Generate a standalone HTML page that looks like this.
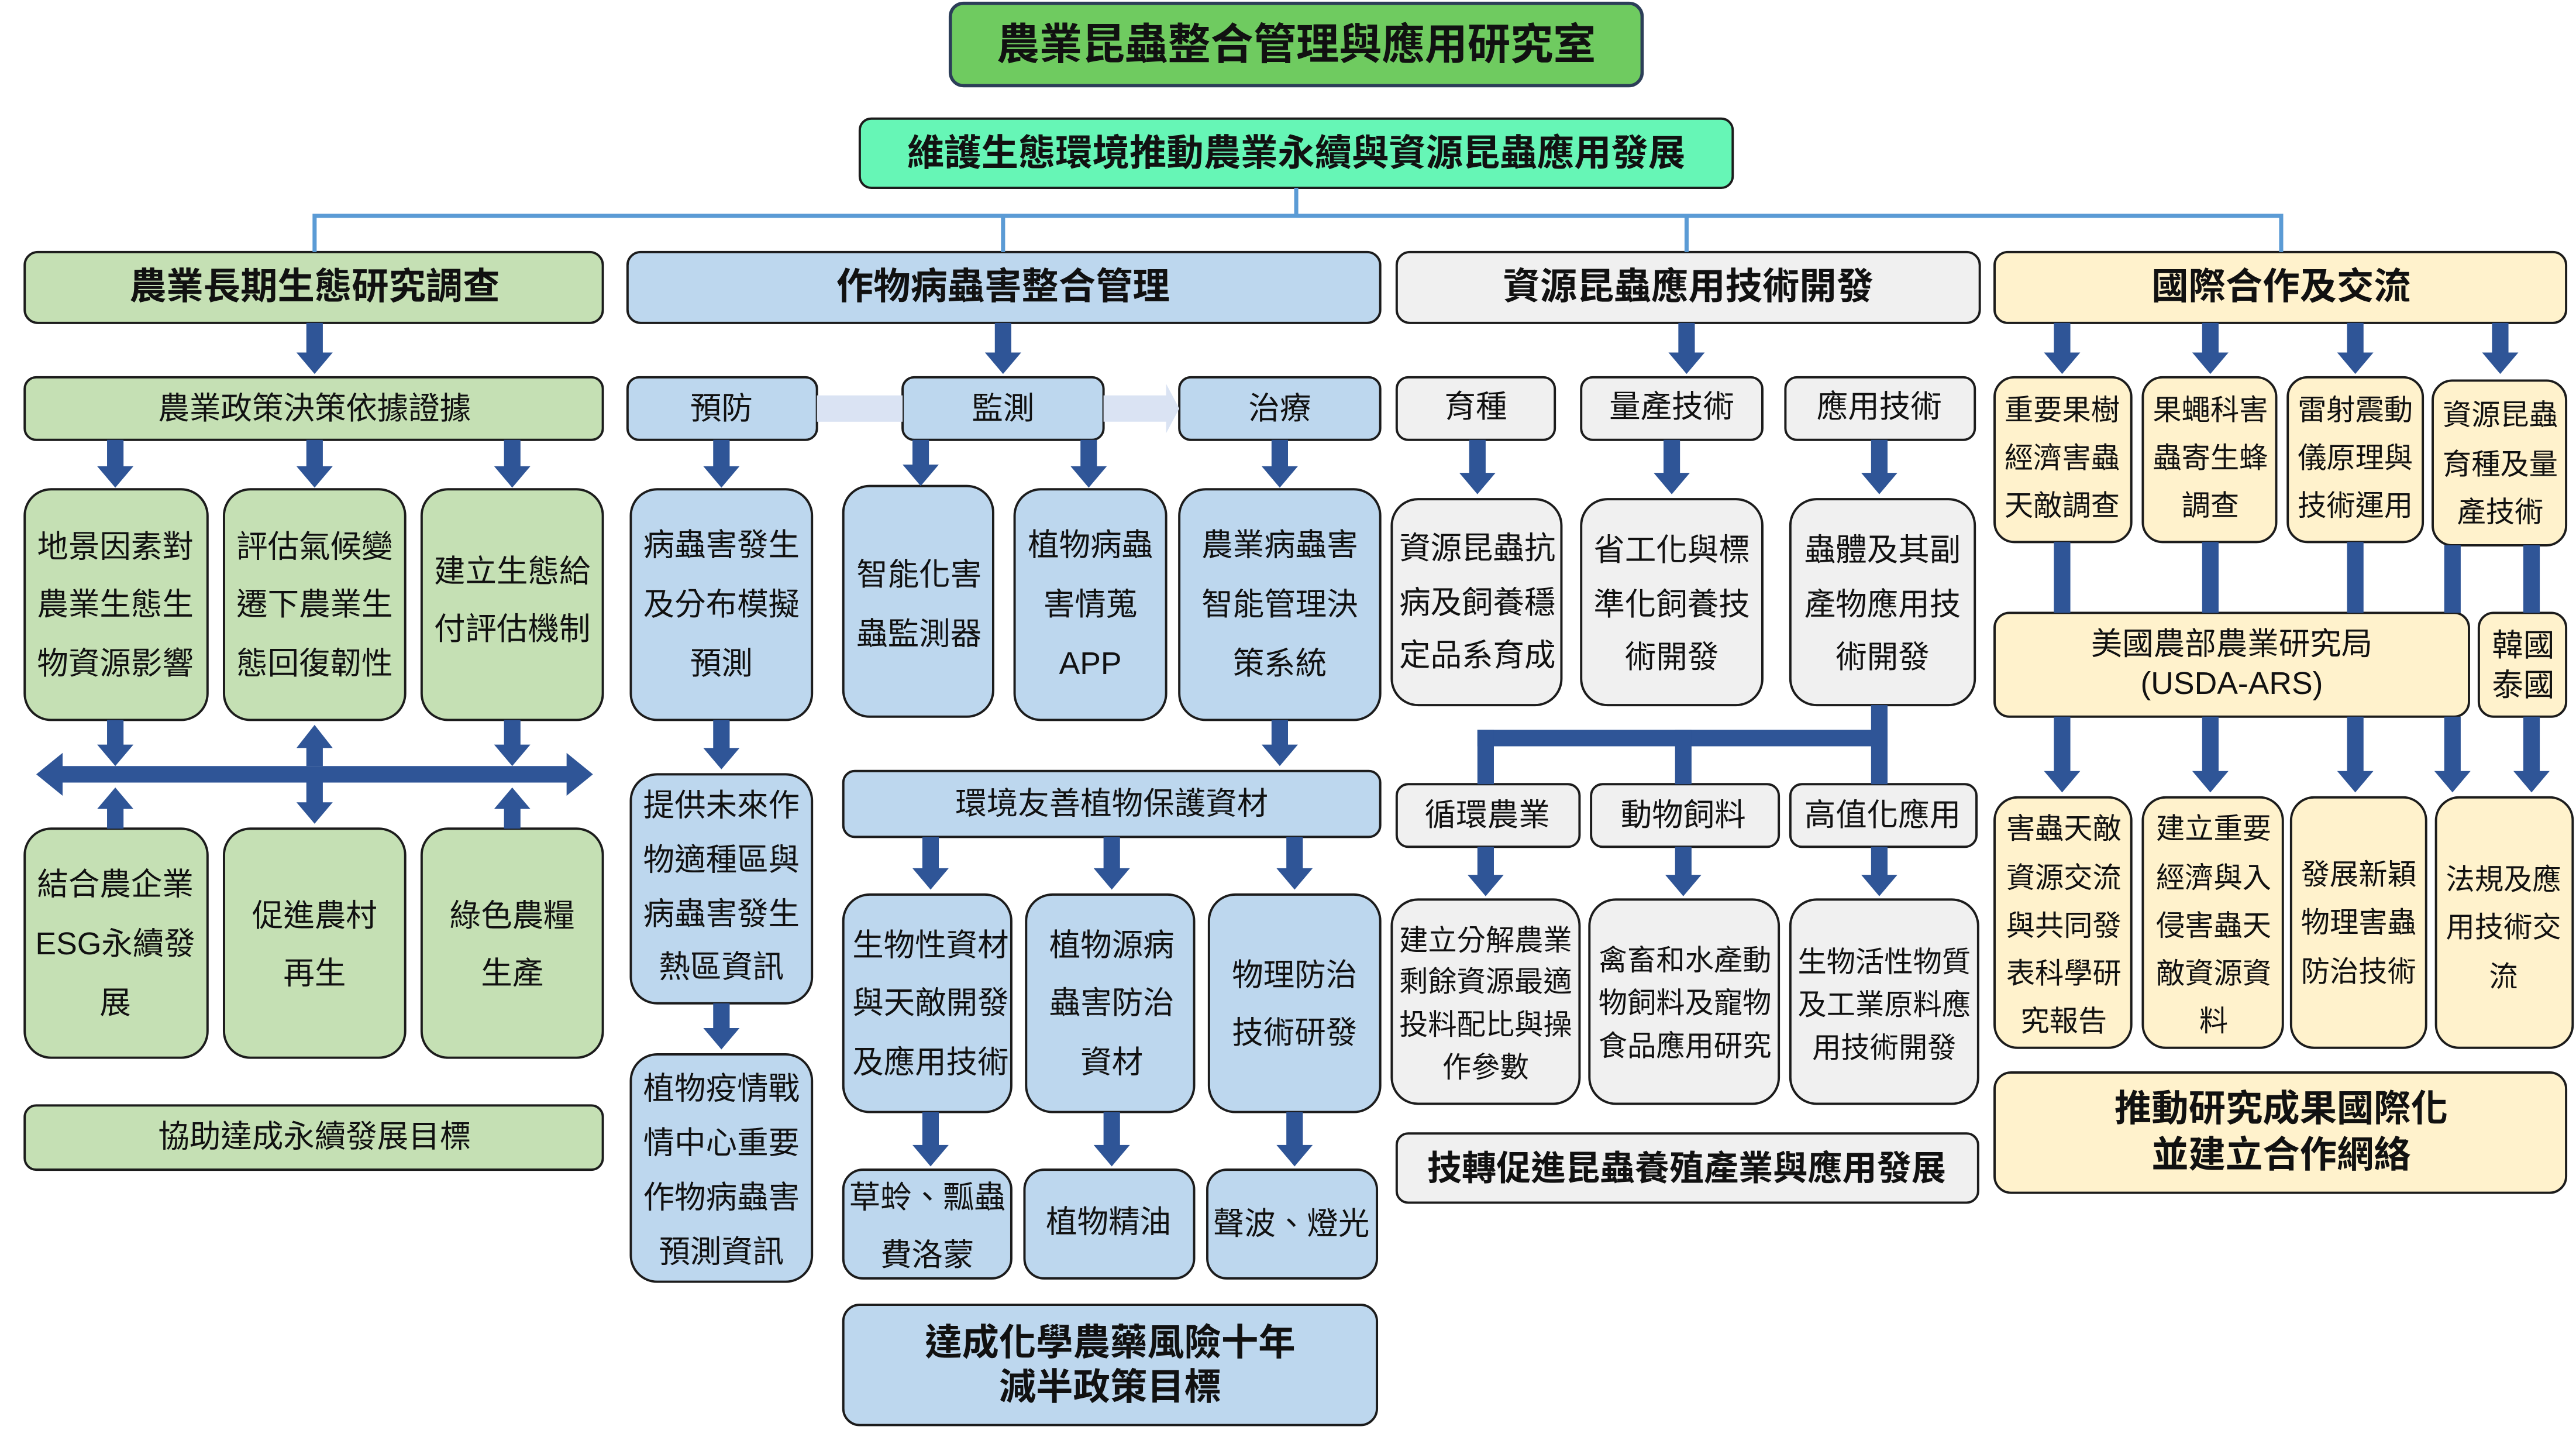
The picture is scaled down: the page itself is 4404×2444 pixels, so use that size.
<!DOCTYPE html>
<html><head><meta charset="utf-8"><style>
html,body{margin:0;padding:0;background:#fff;}
svg{display:block;}
text{font-family:"Liberation Sans","Noto Sans CJK TC",sans-serif;text-anchor:middle;dominant-baseline:central;fill:#111;}
.b{font-weight:bold;}
</style></head><body>
<svg width="4404" height="2444" viewBox="0 0 1564 868" preserveAspectRatio="none" xmlns="http://www.w3.org/2000/svg">
<g stroke="#1c1c1c" stroke-width="1.4">
<rect x="577" y="2" width="420" height="50" rx="8" fill="#6fcb60" stroke="#2c3e58" stroke-width="2"/>
<rect x="522" y="72" width="530" height="42" rx="7" fill="#66f6b6"/>
<rect x="15" y="153" width="351" height="43" rx="8" fill="#c5e0b4"/>
<rect x="381" y="153" width="457" height="43" rx="8" fill="#bdd7ee"/>
<rect x="848" y="153" width="354" height="43" rx="8" fill="#f0f0f0"/>
<rect x="1211" y="153" width="347" height="43" rx="8" fill="#fff2cc"/>
<rect x="15" y="229" width="351" height="38" rx="7" fill="#c5e0b4"/>
<rect x="15" y="297" width="111" height="140" rx="16" fill="#c5e0b4"/>
<rect x="136" y="297" width="110" height="140" rx="16" fill="#c5e0b4"/>
<rect x="256" y="297" width="110" height="140" rx="16" fill="#c5e0b4"/>
<rect x="15" y="503" width="111" height="139" rx="16" fill="#c5e0b4"/>
<rect x="136" y="503" width="110" height="139" rx="16" fill="#c5e0b4"/>
<rect x="256" y="503" width="110" height="139" rx="16" fill="#c5e0b4"/>
<rect x="15" y="671" width="351" height="39" rx="7" fill="#c5e0b4"/>
<rect x="381" y="229" width="115" height="38" rx="7" fill="#bdd7ee"/>
<rect x="548" y="229" width="122" height="38" rx="7" fill="#bdd7ee"/>
<rect x="716" y="229" width="122" height="38" rx="7" fill="#bdd7ee"/>
<rect x="383" y="297" width="110" height="140" rx="16" fill="#bdd7ee"/>
<rect x="512" y="295" width="91" height="140" rx="16" fill="#bdd7ee"/>
<rect x="616" y="297" width="92" height="140" rx="16" fill="#bdd7ee"/>
<rect x="716" y="297" width="122" height="140" rx="16" fill="#bdd7ee"/>
<rect x="383" y="470" width="110" height="139" rx="16" fill="#bdd7ee"/>
<rect x="383" y="640" width="110" height="138" rx="16" fill="#bdd7ee"/>
<rect x="512" y="468" width="326" height="40" rx="7" fill="#bdd7ee"/>
<rect x="512" y="543" width="102" height="132" rx="16" fill="#bdd7ee"/>
<rect x="623" y="543" width="102" height="132" rx="16" fill="#bdd7ee"/>
<rect x="734" y="543" width="104" height="132" rx="16" fill="#bdd7ee"/>
<rect x="512" y="710" width="102" height="66" rx="12" fill="#bdd7ee"/>
<rect x="622" y="710" width="103" height="66" rx="12" fill="#bdd7ee"/>
<rect x="733" y="710" width="103" height="66" rx="12" fill="#bdd7ee"/>
<rect x="512" y="792" width="324" height="73" rx="10" fill="#bdd7ee"/>
<rect x="848" y="229" width="96" height="38" rx="7" fill="#f0f0f0"/>
<rect x="960" y="229" width="110" height="38" rx="7" fill="#f0f0f0"/>
<rect x="1084" y="229" width="115" height="38" rx="7" fill="#f0f0f0"/>
<rect x="845" y="303" width="103" height="125" rx="16" fill="#f0f0f0"/>
<rect x="960" y="303" width="110" height="125" rx="16" fill="#f0f0f0"/>
<rect x="1087" y="303" width="112" height="125" rx="16" fill="#f0f0f0"/>
<rect x="848" y="476" width="111" height="38" rx="7" fill="#f0f0f0"/>
<rect x="966" y="476" width="114" height="38" rx="7" fill="#f0f0f0"/>
<rect x="1087" y="476" width="113" height="38" rx="7" fill="#f0f0f0"/>
<rect x="845" y="546" width="114" height="124" rx="16" fill="#f0f0f0"/>
<rect x="965" y="546" width="115" height="124" rx="16" fill="#f0f0f0"/>
<rect x="1087" y="546" width="114" height="124" rx="16" fill="#f0f0f0"/>
<rect x="848" y="688" width="353" height="42" rx="7" fill="#f0f0f0"/>
<rect x="1211" y="229" width="83" height="100" rx="12" fill="#fff2cc"/>
<rect x="1301" y="229" width="81" height="100" rx="12" fill="#fff2cc"/>
<rect x="1389" y="229" width="82" height="100" rx="12" fill="#fff2cc"/>
<rect x="1477" y="231" width="81" height="100" rx="12" fill="#fff2cc"/>
<rect x="1211" y="372" width="288" height="63" rx="9" fill="#fff2cc"/>
<rect x="1505" y="372" width="53" height="63" rx="9" fill="#fff2cc"/>
<rect x="1211" y="484" width="83" height="152" rx="14" fill="#fff2cc"/>
<rect x="1301" y="484" width="85" height="152" rx="14" fill="#fff2cc"/>
<rect x="1391" y="484" width="82" height="152" rx="14" fill="#fff2cc"/>
<rect x="1479" y="484" width="83" height="152" rx="14" fill="#fff2cc"/>
<rect x="1211" y="651" width="347" height="73" rx="10" fill="#fff2cc"/>
</g>
<g stroke="#5b9bd5" stroke-width="2.5" fill="none">
<path d="M787 114V131M191 153V131H1385V153M609 131V153M1024 131V153"/>
</g>
<rect x="496" y="240" width="52" height="16" fill="#dae3f3"/>
<polygon points="670,240 708,240 708,233 716,248 708,263 708,256 670,256" fill="#dae3f3"/>
<g fill="#2f5597">
<polygon points="186,196 196,196 196,214 202,214 191,227 180,214 186,214"/>
<polygon points="604,196 614,196 614,214 620,214 609,227 598,214 604,214"/>
<polygon points="1019,196 1029,196 1029,214 1035,214 1024,227 1013,214 1019,214"/>
<polygon points="1247,196 1257,196 1257,214 1263,214 1252,227 1241,214 1247,214"/>
<polygon points="1337,196 1347,196 1347,214 1353,214 1342,227 1331,214 1337,214"/>
<polygon points="1425,196 1435,196 1435,214 1441,214 1430,227 1419,214 1425,214"/>
<polygon points="1513,196 1523,196 1523,214 1529,214 1518,227 1507,214 1513,214"/>
<polygon points="65,267 75,267 75,283 81,283 70,296 59,283 65,283"/>
<polygon points="186,267 196,267 196,283 202,283 191,296 180,283 186,283"/>
<polygon points="306,267 316,267 316,283 322,283 311,296 300,283 306,283"/>
<polygon points="433,267 443,267 443,283 449,283 438,296 427,283 433,283"/>
<polygon points="554,267 564,267 564,282 570,282 559,295 548,282 554,282"/>
<polygon points="656,267 666,267 666,283 672,283 661,296 650,283 656,283"/>
<polygon points="772,267 782,267 782,283 788,283 777,296 766,283 772,283"/>
<polygon points="65,437 75,437 75,452 81,452 70,465 59,452 65,452"/>
<polygon points="306,437 316,437 316,452 322,452 311,465 300,452 306,452"/>
<polygon points="186,465 196,465 196,454 202,454 191,440 180,454 186,454"/>
<polygon points="186,475 196,475 196,487 202,487 191,500 180,487 186,487"/>
<polygon points="65,503 75,503 75,491 81,491 70,478 59,491 65,491"/>
<polygon points="306,503 316,503 316,491 322,491 311,478 300,491 306,491"/>
<polygon points="22,470 38,457 38,465 344,465 344,457 360,470 344,483 344,475 38,475 38,483"/>
<polygon points="433,437 443,437 443,454 449,454 438,467 427,454 433,454"/>
<polygon points="433,609 443,609 443,624 449,624 438,637 427,624 433,624"/>
<polygon points="772,437 782,437 782,452 788,452 777,465 766,452 772,452"/>
<polygon points="560,508 570,508 570,527 576,527 565,540 554,527 560,527"/>
<polygon points="670,508 680,508 680,527 686,527 675,540 664,527 670,527"/>
<polygon points="781,508 791,508 791,527 797,527 786,540 775,527 781,527"/>
<polygon points="560,675 570,675 570,695 576,695 565,708 554,695 560,695"/>
<polygon points="670,675 680,675 680,695 686,695 675,708 664,695 670,695"/>
<polygon points="781,675 791,675 791,695 797,695 786,708 775,695 781,695"/>
<polygon points="892,267 902,267 902,287 908,287 897,300 886,287 892,287"/>
<polygon points="1010,267 1020,267 1020,287 1026,287 1015,300 1004,287 1010,287"/>
<polygon points="1136,267 1146,267 1146,287 1152,287 1141,300 1130,287 1136,287"/>
<rect x="1136" y="428" width="10" height="48"/>
<rect x="897" y="443" width="249" height="10"/>
<rect x="897" y="443" width="10" height="33"/>
<rect x="1017" y="443" width="10" height="33"/>
<polygon points="897,514 907,514 907,531 913,531 902,544 891,531 897,531"/>
<polygon points="1017,514 1027,514 1027,531 1033,531 1022,544 1011,531 1017,531"/>
<polygon points="1136,514 1146,514 1146,531 1152,531 1141,544 1130,531 1136,531"/>
<rect x="1247" y="329" width="10" height="43"/>
<rect x="1337" y="329" width="10" height="43"/>
<rect x="1425" y="329" width="10" height="43"/>
<rect x="1484" y="331" width="10" height="41"/>
<rect x="1532" y="331" width="10" height="41"/>
<polygon points="1247,435 1257,435 1257,468 1263,468 1252,481 1241,468 1247,468"/>
<polygon points="1337,435 1347,435 1347,468 1353,468 1342,481 1331,468 1337,468"/>
<polygon points="1425,435 1435,435 1435,468 1441,468 1430,481 1419,468 1425,468"/>
<polygon points="1484,435 1494,435 1494,468 1500,468 1489,481 1478,468 1484,468"/>
<polygon points="1532,435 1542,435 1542,468 1548,468 1537,481 1526,468 1532,468"/>
</g>
<text x="787" y="27" class="b" font-size="26">農業昆蟲整合管理與應用研究室</text>
<text x="787" y="93" class="b" font-size="22.5">維護生態環境推動農業永續與資源昆蟲應用發展</text>
<g font-size="22.5">
<text x="191" y="174" class="b">農業長期生態研究調查</text>
<text x="609" y="174" class="b">作物病蟲害整合管理</text>
<text x="1025" y="174" class="b">資源昆蟲應用技術開發</text>
<text x="1385" y="174" class="b">國際合作及交流</text>
</g>
<g font-size="19">
<text x="191" y="248">農業政策決策依據證據</text>
<text x="70" y="332">地景因素對</text><text x="70" y="367">農業生態生</text><text x="70" y="403">物資源影響</text>
<text x="191" y="332">評估氣候變</text><text x="191" y="367">遷下農業生</text><text x="191" y="403">態回復韌性</text>
<text x="311" y="347">建立生態給</text><text x="311" y="382">付評估機制</text>
<text x="70" y="537">結合農企業</text><text x="70" y="573">ESG永續發</text><text x="70" y="609">展</text>
<text x="191" y="556">促進農村</text><text x="191" y="591">再生</text>
<text x="311" y="556">綠色農糧</text><text x="311" y="591">生產</text>
<text x="191" y="690">協助達成永續發展目標</text>
<text x="438" y="248">預防</text><text x="609" y="248">監測</text><text x="777" y="248">治療</text>
<text x="438" y="331">病蟲害發生</text><text x="438" y="367">及分布模擬</text><text x="438" y="403">預測</text>
<text x="558" y="349">智能化害</text><text x="558" y="385">蟲監測器</text>
<text x="662" y="331">植物病蟲</text><text x="662" y="367">害情蒐</text><text x="662" y="403">APP</text>
<text x="777" y="331">農業病蟲害</text><text x="777" y="367">智能管理決</text><text x="777" y="403">策系統</text>
<text x="438" y="489">提供未來作</text><text x="438" y="522">物適種區與</text><text x="438" y="555">病蟲害發生</text><text x="438" y="587">熱區資訊</text>
<text x="438" y="661">植物疫情戰</text><text x="438" y="694">情中心重要</text><text x="438" y="727">作物病蟲害</text><text x="438" y="760">預測資訊</text>
<text x="675" y="488">環境友善植物保護資材</text>
<text x="565" y="574">生物性資材</text><text x="565" y="609">與天敵開發</text><text x="565" y="645">及應用技術</text>
<text x="675" y="574">植物源病</text><text x="675" y="609">蟲害防治</text><text x="675" y="645">資材</text>
<text x="786" y="592">物理防治</text><text x="786" y="627">技術研發</text>
<text x="563" y="727">草蛉、瓢蟲</text><text x="563" y="762">費洛蒙</text>
<text x="673" y="742">植物精油</text>
<text x="784" y="743">聲波、燈光</text>
<text x="896" y="247">育種</text><text x="1015" y="247">量產技術</text><text x="1141" y="247">應用技術</text>
<text x="897" y="333">資源昆蟲抗</text><text x="897" y="366">病及飼養穩</text><text x="897" y="398">定品系育成</text>
<text x="1015" y="334">省工化與標</text><text x="1015" y="367">準化飼養技</text><text x="1015" y="399">術開發</text>
<text x="1143" y="334">蟲體及其副</text><text x="1143" y="367">產物應用技</text><text x="1143" y="399">術開發</text>
<text x="903" y="495">循環農業</text><text x="1022" y="495">動物飼料</text><text x="1143" y="495">高值化應用</text>
<text x="1355" y="391">美國農部農業研究局</text><text x="1355" y="415">(USDA-ARS)</text>
<text x="1532" y="392">韓國</text><text x="1532" y="416">泰國</text>
</g>
<g font-size="17.5">
<text x="902" y="571">建立分解農業</text><text x="902" y="596">剩餘資源最適</text><text x="902" y="622">投料配比與操</text><text x="902" y="648">作參數</text>
<text x="1023" y="583">禽畜和水產動</text><text x="1023" y="609">物飼料及寵物</text><text x="1023" y="635">食品應用研究</text>
<text x="1144" y="584">生物活性物質</text><text x="1144" y="610">及工業原料應</text><text x="1144" y="636">用技術開發</text>
<text x="1252" y="249">重要果樹</text><text x="1252" y="278">經濟害蟲</text><text x="1252" y="307">天敵調查</text>
<text x="1342" y="249">果蠅科害</text><text x="1342" y="278">蟲寄生蜂</text><text x="1342" y="307">調查</text>
<text x="1430" y="249">雷射震動</text><text x="1430" y="278">儀原理與</text><text x="1430" y="307">技術運用</text>
<text x="1518" y="252">資源昆蟲</text><text x="1518" y="282">育種及量</text><text x="1518" y="311">產技術</text>
<text x="1253" y="503">害蟲天敵</text><text x="1253" y="533">資源交流</text><text x="1253" y="562">與共同發</text><text x="1253" y="591">表科學研</text><text x="1253" y="620">究報告</text>
<text x="1344" y="503">建立重要</text><text x="1344" y="533">經濟與入</text><text x="1344" y="562">侵害蟲天</text><text x="1344" y="591">敵資源資</text><text x="1344" y="620">料</text>
<text x="1432" y="531">發展新穎</text><text x="1432" y="560">物理害蟲</text><text x="1432" y="590">防治技術</text>
<text x="1520" y="534">法規及應</text><text x="1520" y="563">用技術交</text><text x="1520" y="593">流</text>
</g>
<g font-size="22.5">
<text x="674" y="815" class="b">達成化學農藥風險十年</text><text x="674" y="842" class="b">減半政策目標</text>
<text x="1024" y="709" class="b" font-size="21">技轉促進昆蟲養殖產業與應用發展</text>
<text x="1385" y="673" class="b">推動研究成果國際化</text><text x="1385" y="701" class="b">並建立合作網絡</text>
</g>
</svg>
</body></html>
